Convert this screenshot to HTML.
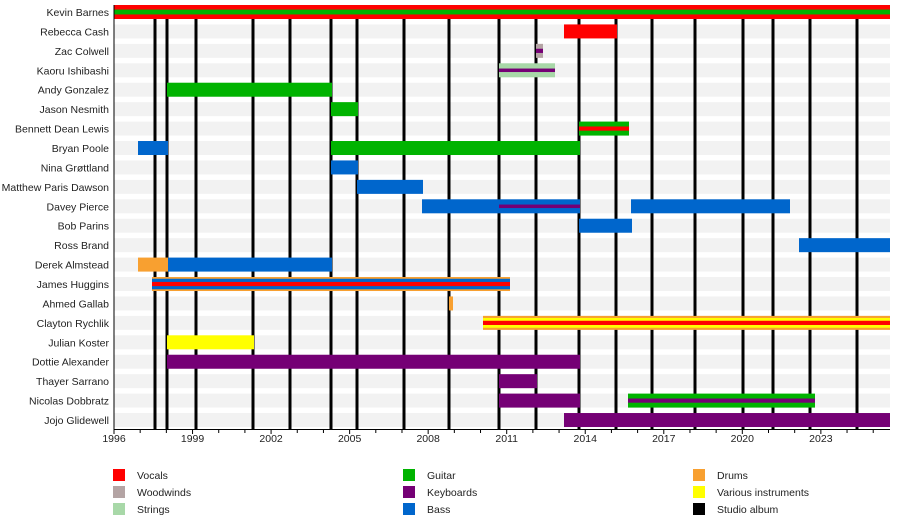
<!DOCTYPE html>
<html><head><meta charset="utf-8"><style>
body{margin:0;background:#fff;font-family:"Liberation Sans",sans-serif;}
svg text{font-family:"Liberation Sans",sans-serif;font-size:10.5px;fill:#222;}
</style></head><body>
<svg width="900" height="520" xmlns="http://www.w3.org/2000/svg">
<g id="bg"></g><g id="lines"></g><g id="bars"></g><g id="lab"></g><g id="ax"></g><g id="leg"></g>
</svg>
<script>
const NS="http://www.w3.org/2000/svg";
function el(p,t,a,txt){const e=document.createElementNS(NS,t);for(const k in a)e.setAttribute(k,a[k]);if(txt!==undefined)e.textContent=txt;document.getElementById(p).appendChild(e);return e;}
const names=["Kevin Barnes","Rebecca Cash","Zac Colwell","Kaoru Ishibashi","Andy Gonzalez","Jason Nesmith","Bennett Dean Lewis","Bryan Poole","Nina Grøttland","Matthew Paris Dawson","Davey Pierce","Bob Parins","Ross Brand","Derek Almstead","James Huggins","Ahmed Gallab","Clayton Rychlik","Julian Koster","Dottie Alexander","Thayer Sarrano","Nicolas Dobbratz","Jojo Glidewell"];
const C={r:"#ff0000",g:"#00b300",p:"#750075",b:"#0066cc",o:"#f8a030",y:"#ffff00",w:"#b4a4a4",s:"#a8d8a8"};
const yc=i=>12+i*19.43;
names.forEach((n,i)=>{el("bg","rect",{x:114,y:yc(i)-7,width:776,height:14,fill:"#f2f2f2"});el("lab","text",{x:109,y:yc(i)+4,"text-anchor":"end"},n);});
[155,167,196,253,290,331,357,404,449,499,536,579,616,652,695,743,773,810,857].forEach(x=>el("lines","rect",{x:x-1.5,y:19,width:3,height:410,fill:"#000"}));
// [row,x1,x2,outer,inner,innerFrac,center,centerFrac]
const B=[
[0,114,890,"r","g",0.35],
[1,564,617,"r"],
[2,536,543,"w",null,0,"p",0.3],
[3,499,555,"s",null,0,"p",0.25],
[4,167,332,"g"],[5,331,358,"g"],
[6,579,629,"g",null,0,"r",0.3],
[7,138,168,"b"],[7,331,580,"g"],
[8,331,358,"b"],[9,357,423,"b"],
[10,422,580,"b"],[10,499,580,null,null,0,"p",0.25],[10,631,790,"b"],
[11,579,632,"b"],[12,799,890,"b"],
[13,138,168,"o"],[13,168,332,"b"],
[14,152,510,"o","b",0.75,"r",0.3],
[15,449,453,"o"],
[16,483,890,"o","y",0.7,"r",0.3],
[17,167,254,"y"],[18,167,580,"p"],[19,499,537,"p"],
[20,499,580,"p"],[20,628,815,"g",null,0,"p",0.3],
[21,564,890,"p"]];
B.forEach(([i,x1,x2,o,inn,f,c,cf])=>{const y=yc(i),h=14;
if(o)el("bars","rect",{x:x1,y:y-h/2,width:x2-x1,height:h,fill:C[o]});
if(inn)el("bars","rect",{x:x1,y:y-h*f/2,width:x2-x1,height:h*f,fill:C[inn]});
if(c)el("bars","rect",{x:x1,y:y-h*cf/2,width:x2-x1,height:h*cf,fill:C[c]});});
el("ax","rect",{x:114,y:429,width:776,height:1,fill:"#000"});
for(let yr=1996;yr<=2025;yr++){const x=114+(yr-1996)*26.18;const maj=(yr-1996)%3==0;
el("ax","rect",{x:x-0.5,y:430,width:1,height:maj?4:3,fill:"#000"});
if(maj)el("ax","text",{x:x,y:442,"text-anchor":"middle"},yr);}
el("ax","rect",{x:113.5,y:5,width:1,height:425,fill:"#000"});
const L=[["Vocals","r",113,475],["Woodwinds","w",113,492],["Strings","s",113,509],["Guitar","g",403,475],["Keyboards","p",403,492],["Bass","b",403,509],["Drums","o",693,475],["Various instruments","y",693,492],["Studio album","#000",693,509]];
L.forEach(([t,c,x,y])=>{el("leg","rect",{x:x,y:y-6,width:12,height:12,fill:C[c]||c});el("leg","text",{x:x+24,y:y+4},t);});
</script>
</body></html>
